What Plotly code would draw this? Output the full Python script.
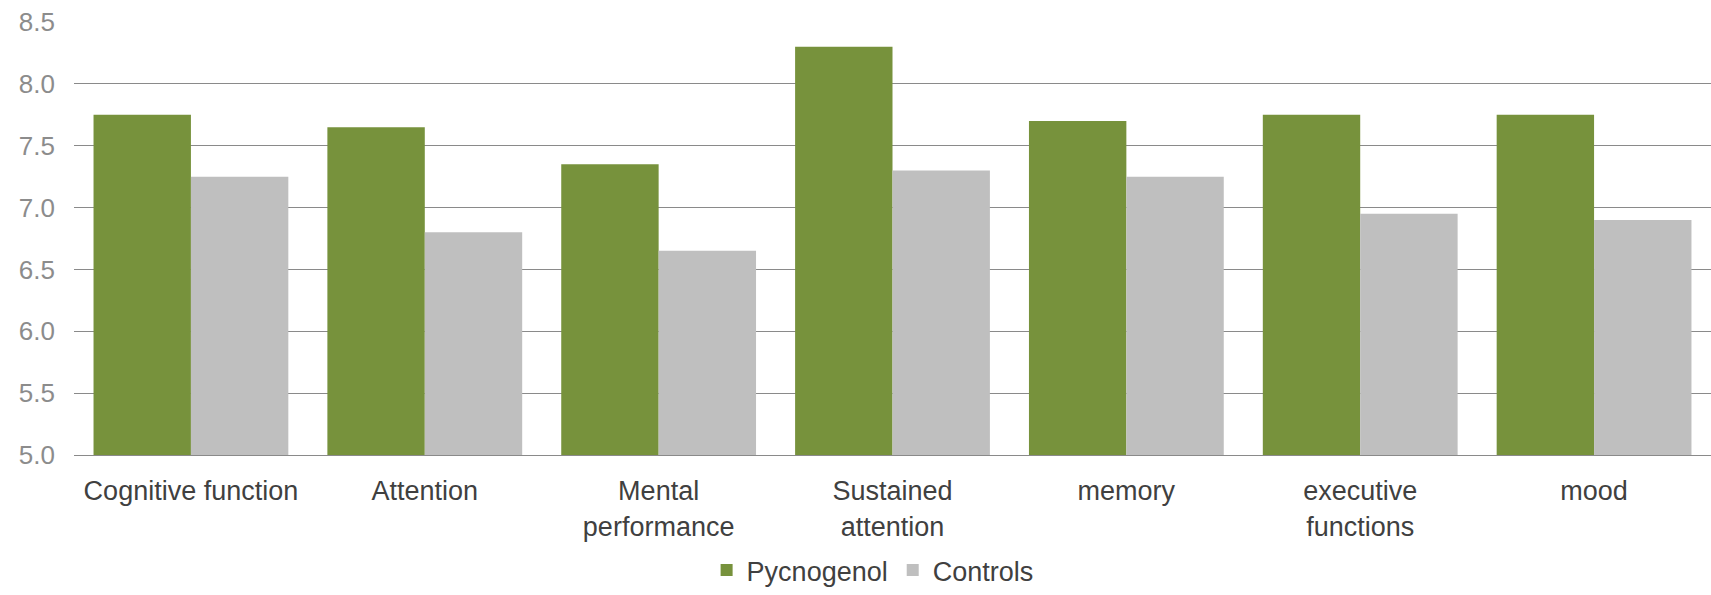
import plotly.graph_objects as go

categories = ["Cognitive function", "Attention", "Mental<br>performance", "Sustained<br>attention",
              "memory", "executive<br>functions", "mood"]
pycnogenol = [7.75, 7.65, 7.35, 8.30, 7.70, 7.75, 7.75]
controls = [7.25, 6.80, 6.65, 7.30, 7.25, 6.95, 6.90]
y_ticks = [5.0, 5.5, 6.0, 6.5, 7.0, 7.5, 8.0, 8.5]

FONT = "Liberation Sans, Arial, sans-serif"

fig = go.Figure()
fig.add_trace(go.Bar(x=categories, y=pycnogenol, name="Pycnogenol", marker_color="#77923C",
                     marker_line_width=0))
fig.add_trace(go.Bar(x=categories, y=controls, name="Controls", marker_color="#BFBFBF",
                     marker_line_width=0))

fig.update_layout(
    width=1711, height=595,
    margin=dict(l=74, r=0, t=22, b=140, autoexpand=False),
    paper_bgcolor="white", plot_bgcolor="white",
    barmode="group", bargap=0.167, bargroupgap=0,
    font=dict(family=FONT, size=26, color="#404040"),
    showlegend=True,
    legend=dict(orientation="h", x=0.51, xanchor="center", xref="container",
                y=0.0, yanchor="bottom", yref="container",
                font=dict(size=27, color="#404040"), itemwidth=30, traceorder="normal"),
)
fig.update_yaxes(range=[5.0, 8.5], tickvals=y_ticks, ticktext=[f"{v:.1f}" for v in y_ticks],
                 showgrid=True, gridcolor="#8A8A8A", gridwidth=1, zeroline=False,
                 showline=False, ticks="", ticklabelstandoff=18, automargin=False,
                 tickfont=dict(size=26, color="#8C8C8C"))
fig.update_xaxes(showline=True, linecolor="#8A8A8A", linewidth=1, ticks="",
                 tickfont=dict(size=27, color="#404040"), ticklabelstandoff=12,
                 tickangle=0, automargin=False)

fig.write_html("out.html")
